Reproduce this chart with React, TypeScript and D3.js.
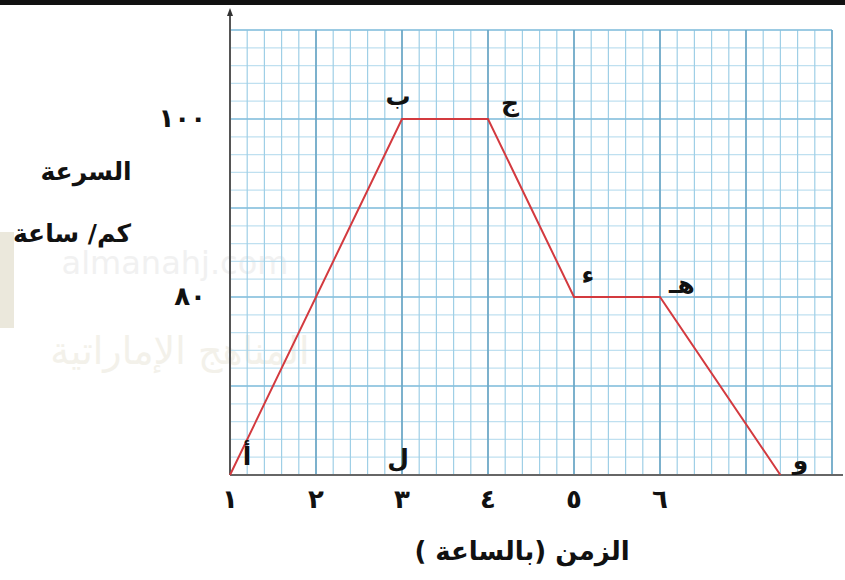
import * as d3 from "d3";

// hours on the x axis, speed (km/h) on the y axis
const hours = [1, 2, 3, 4, 5, 6];
const hourLabels = ["١", "٢", "٣", "٤", "٥", "٦"];
const speedTicks = [80, 100];
const speedLabels = ["٨٠", "١٠٠"];

const pointNames = ["أ", "ب", "ج", "ء", "هـ", "و"];
const pointHours = [1, 3, 4, 5, 6, 7.4];
const pointSpeeds = [60, 100, 100, 80, 80, 60];

const W = 845;
const H = 580;
const left = 230;
const right = 832;
const top = 30;
const bottom = 475;

export default function App() {
  const x = d3.scaleLinear([1, 8], [left, right]);
  const y = d3.scaleLinear([60, 110], [bottom, top]);

  const minorX = d3.range(1, 8.001, 0.2);
  const minorY = d3.range(60, 110.001, 2);
  const majorX = d3.range(1, 8.001, 1);
  const majorY = d3.range(60, 110.001, 10);

  const pts = pointHours.map((h, i) => [h, pointSpeeds[i]] as [number, number]);
  const line = d3.line<[number, number]>(d => x(d[0]), d => y(d[1]));

  // label offsets next to each point
  const nameDx = [17, -4, 22, 14, 22, 20];
  const nameDy = [-10, -14, -8, -14, -4, -6];

  const font = "'DejaVu Sans', sans-serif";

  return (
    <svg width={W} height={H} style={{ position: "absolute", left: 0, top: 0, background: "#fff" }}>
      <rect x={0} y={0} width={W} height={5} fill="#111" />
      <rect x={0} y={232} width={14} height={96} fill="#ebe8dc" />
      <text x={175} y={274} fontFamily={font} fontSize={32} fill="#f1f1f1" textAnchor="middle">almanahj.com</text>
      <text x={180} y={364} fontFamily={font} fontSize={38} fill="#f3f1ea" textAnchor="middle" direction="rtl">المناهج الإماراتية</text>

      <g>
        {minorY.map((v, i) => (
          <line key={"my" + i} x1={left} x2={right} y1={y(v)} y2={y(v)} stroke="#bfe0f0" strokeWidth={1.2} />
        ))}
        {minorX.map((v, i) => (
          <line key={"mx" + i} x1={x(v)} x2={x(v)} y1={top} y2={bottom} stroke="#9fcfe6" strokeWidth={1.2} />
        ))}
        {majorY.map((v, i) => (
          <line key={"My" + i} x1={left} x2={right} y1={y(v)} y2={y(v)} stroke="#86bfdc" strokeWidth={1.6} />
        ))}
        {majorX.map((v, i) => (
          <line key={"Mx" + i} x1={x(v)} x2={x(v)} y1={top} y2={bottom} stroke="#6aa5c4" strokeWidth={1.6} />
        ))}
      </g>

      {/* axes */}
      <line x1={left} x2={left} y1={bottom} y2={12} stroke="#555" strokeWidth={2} />
      <path d={`M${left - 3},16 L${left},8 L${left + 3},16 Z`} fill="#333" />
      <line x1={left} x2={843} y1={bottom} y2={bottom} stroke="#666" strokeWidth={2} />

      <path d={line(pts) ?? ""} fill="none" stroke="#d33a3f" strokeWidth={2} />

      <g fontFamily={font} fontWeight="bold" fill="#111">
        {hours.map((h, i) => (
          <text key={h} x={x(h)} y={508} fontSize={26} textAnchor="middle">{hourLabels[i]}</text>
        ))}
        {speedTicks.map((s, i) => (
          <text key={s} x={206} y={y(s)} dy="0.3em" fontSize={26} textAnchor="end">{speedLabels[i]}</text>
        ))}
        {pointNames.map((n, i) => (
          <text key={n} x={x(pointHours[i]) + nameDx[i]} y={y(pointSpeeds[i]) + nameDy[i]} fontSize={25} textAnchor="middle">{n}</text>
        ))}
        <text x={x(3) - 4} y={y(60) - 8} fontSize={25} textAnchor="middle">ل</text>
        <text x={86} y={180} fontSize={25} textAnchor="middle" direction="rtl">السرعة</text>
        <text x={72} y={242} fontSize={25} textAnchor="middle" direction="rtl">كم/ ساعة</text>
        <text x={522} y={560} fontSize={26} textAnchor="middle" direction="rtl">الزمن (بالساعة )</text>
      </g>
    </svg>
  );
}
